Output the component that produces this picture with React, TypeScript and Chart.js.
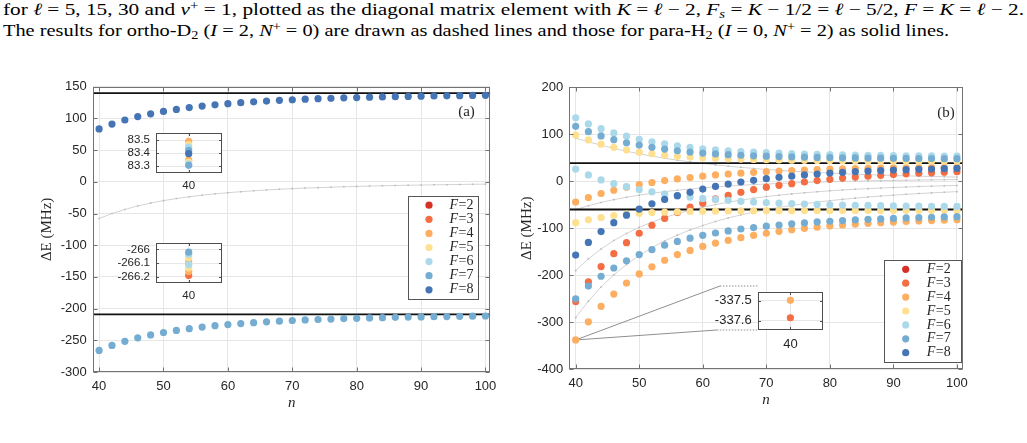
import React, { useEffect, useLayoutEffect, useRef } from "react";
import { Chart, registerables } from "chart.js";

Chart.register(...registerables);

// Rydberg principal quantum numbers sampled in both panels
const N = [40, 42, 44, 46, 48, 50, 52, 54, 56, 58, 60, 62, 64, 66, 68, 70, 72, 74, 76, 78, 80, 82, 84, 86, 88, 90, 92, 94, 96, 98, 100];

// total angular momentum labels and their marker colours
const F_LABELS = [2, 3, 4, 5, 6, 7, 8];
const F_COLORS = ["#d73027", "#f46d43", "#fdae61", "#fee090", "#abd9e9", "#74add1", "#4575b4"];

const X_TICKS = [40, 50, 60, 70, 80, 90, 100];
const A_Y_TICKS = [150, 100, 50, 0, -50, -100, -150, -200, -250, -300];
const B_Y_TICKS = [200, 100, 0, -100, -200, -300, -400];

// panel (a): shifts in MHz
const A_F8_UPPER = [83.4, 91.1, 97.5, 102.8, 107.2, 111.0, 114.2, 117.0, 119.4, 121.4, 123.2, 124.8, 126.2, 127.4, 128.5, 129.4, 130.3, 131.1, 131.7, 132.4, 132.9, 133.4, 133.9, 134.3, 134.7, 135.0, 135.3, 135.6, 135.9, 136.2, 136.4];
const A_F7_LOWER = [-266, -258.1, -251.6, -246.1, -241.6, -237.7, -234.4, -231.6, -229.1, -227.0, -225.2, -223.6, -222.2, -220.9, -219.8, -218.8, -217.9, -217.2, -216.5, -215.8, -215.3, -214.7, -214.3, -213.8, -213.4, -213.1, -212.8, -212.5, -212.2, -211.9, -211.7];
const A_REFERENCE = [-58, -50.1, -43.6, -38.1, -33.6, -29.7, -26.4, -23.6, -21.1, -19.0, -17.2, -15.6, -14.2, -12.9, -11.8, -10.8, -9.9, -9.2, -8.5, -7.8, -7.3, -6.7, -6.3, -5.8, -5.4, -5.1, -4.8, -4.5, -4.2, -3.9, -3.7];
const A_LIMITS = [140, -209];

// panel (a) insets: all F components at n = 40
const INSET_N = [40];
const A_UP_INSET_F = [4, 4, 5, 5, 6, 6, 7, 7, 8];
const A_UP_INSET_E = [83.49, 83.345, 83.465, 83.33, 83.445, 83.315, 83.42, 83.305, 83.395];
const A_UP_INSET_TICKS = [83.3, 83.4, 83.5];
const A_LO_INSET_F = [3, 4, 4, 5, 5, 6, 6, 7];
const A_LO_INSET_E = [-266.19, -266.09, -266.16, -266.06, -266.135, -266.035, -266.11, -266.02];
const A_LO_INSET_TICKS = [-266.2, -266.1, -266];

// panel (b): shifts in MHz, one array per branch
const B_F6_UPPER = [135, 122, 112, 103, 96, 89.5, 84, 79.5, 75.5, 72, 69, 67, 65, 63.4, 62, 60.8, 59.8, 58.9, 58.1, 57.4, 56.8, 56.3, 55.8, 55.4, 55, 54.7, 54.4, 54.2, 54, 53.8, 53.6];
const B_F7_UPPER = [117, 105.5, 96.5, 88.5, 82, 77, 72.5, 68.5, 65, 62.3, 60, 58.2, 56.7, 55.4, 54.3, 53.4, 52.6, 51.9, 51.3, 50.8, 50.4, 50, 49.7, 49.4, 49.1, 48.9, 48.7, 48.5, 48.3, 48.2, 48.1];
const B_F5_UPPER = [98.5, 88, 79, 72.3, 66.6, 62, 58.5, 55.5, 53.2, 51.5, 50, 48.9, 48, 47.2, 46.5, 45.9, 45.4, 45, 44.6, 44.3, 44, 43.8, 43.6, 43.4, 43.3, 43.1, 43, 42.9, 42.8, 42.7, 42.6];
const B_F6_MIDDLE = [26, 13.5, 3, -5, -11.5, -17.5, -22.5, -27, -30.5, -33.5, -36.5, -38.5, -40.5, -42.5, -44, -45.5, -46.6, -47.6, -48.5, -49.2, -49.9, -50.5, -51, -51.4, -51.8, -52.2, -52.5, -52.8, -53.1, -53.3, -53.5];
const B_F4_MIDDLE = [-44, -34.5, -26, -19, -12.5, -7, -2.5, 1.5, 5, 8, 11, 13.5, 15.5, 17.3, 19, 20.5, 21.8, 23, 24, 24.9, 25.7, 26.4, 27, 27.5, 28, 28.4, 28.8, 29.2, 29.5, 29.8, 30.1];
const B_F8_MIDDLE = [-157, -130, -107, -88, -72, -59, -48, -38.5, -30.5, -23.5, -16.5, -11, -6, -1.5, 2, 5.5, 8.5, 11, 13.5, 15.5, 17.5, 19, 20.5, 21.7, 22.8, 23.8, 24.7, 25.5, 26.2, 26.8, 27.4];
const B_F3_MIDDLE = [-256, -214, -181.5, -154, -130.5, -110.5, -93.5, -79, -66.5, -55, -46.5, -37.5, -30, -23.5, -17.5, -12.5, -8.5, -5, -1.5, 1.5, 4.2, 6.8, 9, 11, 12.8, 14.4, 15.9, 17.2, 18.4, 19.5, 20.5];
const B_F5_LOWER = [-88, -82, -77, -73, -70, -68, -66.5, -65.5, -64.8, -64.2, -63.8, -63.5, -63.2, -63, -62.8, -62.6, -62.5, -62.4, -62.3, -62.2, -62.1, -62, -62, -61.9, -61.9, -61.8, -61.8, -61.7, -61.7, -61.7, -61.6];
const B_F7_LOWER = [-250, -223, -202, -184.5, -169, -156, -145.5, -136, -128, -121, -115, -110, -105.5, -101.5, -98.5, -95.5, -93, -90.5, -88.5, -86.5, -85, -83.5, -82.2, -81, -80, -79, -78, -77.2, -76.5, -75.8, -75.2];
const B_F4_LOWER = [-337.6, -299, -266, -240, -216.5, -197, -182, -168, -156, -147, -138.5, -131.5, -125.5, -120, -115, -110.5, -106.5, -103, -100, -97.5, -95, -93, -91, -89.5, -88, -86.7, -85.5, -84.5, -83.5, -82.7, -82];
const B_REF_1 = [92, 84, 77, 70, 64, 58.5, 53.5, 49, 45, 41.3, 38, 35, 32.2, 29.7, 27.4, 25.3, 23.4, 21.7, 20.1, 18.7, 17.4, 16.2, 15.1, 14.1, 13.2, 12.4, 11.6, 10.9, 10.2, 9.6, 9];
const B_REF_2 = [-60, -52, -45, -39, -34, -29.5, -25.5, -22, -19, -16.5, -14, -12, -10, -8.5, -7, -5.7, -4.5, -3.5, -2.5, -1.7, -1, -0.3, 0.3, 0.9, 1.4, 1.9, 2.3, 2.7, 3.1, 3.4, 3.7];
const B_REF_3 = [-190, -165, -144, -126, -111, -98, -87, -77, -69, -61.5, -55, -49.5, -44.5, -40, -36, -32.5, -29.5, -26.8, -24.4, -22.2, -20.3, -18.5, -17, -15.6, -14.3, -13.2, -12.1, -11.2, -10.3, -9.5, -8.8];
const B_REF_4 = [-290, -255, -225, -199, -177, -158, -141, -127, -114.5, -103.5, -94, -85.5, -78, -71.5, -65.5, -60.5, -55.5, -51.5, -47.7, -44.3, -41.2, -38.4, -35.8, -33.5, -31.4, -29.5, -27.7, -26.1, -24.6, -23.2, -22];
const B_LIMITS = [38.5, -60];

// panel (b) inset: F = 3 and F = 4 at n = 40
const B_INSET_F = [3, 4];
const B_INSET_E = [-337.585, -337.497];
const B_INSET_TICKS = [-337.6, -337.5];

const SANS = '"Liberation Sans", Arial, Helvetica, sans-serif';
const SERIF = '"Liberation Serif", "Times New Roman", serif';
const INK = "#262626";
const DOT_R = 3.6;

const colorOf = (f: number) => F_COLORS[F_LABELS.indexOf(f)];
const pts = (ys: number[]) => N.map((n, i) => ({ x: n, y: ys[i] }));

function dots(f: number, data: { x: number; y: number }[]) {
  const c = colorOf(f);
  return {
    type: "scatter",
    label: "F=" + f,
    data,
    showLine: false,
    pointRadius: DOT_R,
    pointHoverRadius: DOT_R,
    pointBorderWidth: 0,
    backgroundColor: c,
    borderColor: c,
    order: 10 - f,
  };
}

function refLine(ys: number[]) {
  return {
    type: "line",
    data: pts(ys),
    borderColor: "#d3d3d3",
    borderWidth: 1,
    pointStyle: "rect",
    pointRadius: 1.1,
    pointBorderWidth: 0,
    pointBackgroundColor: "#bababa",
    order: 100,
  };
}

function level(y: number, x0: number, x1: number) {
  return {
    type: "line",
    data: [{ x: x0, y }, { x: x1, y }],
    borderColor: "#111",
    borderWidth: 1.8,
    pointRadius: 0,
    order: 60,
  };
}

function guide(a: [number, number], b: [number, number], dashed: boolean) {
  return {
    type: "line",
    data: [{ x: a[0], y: a[1] }, { x: b[0], y: b[1] }],
    borderColor: "#8f8f8f",
    borderWidth: 1,
    borderDash: dashed ? [1.5, 1.5] : [],
    pointRadius: 0,
    order: 70,
  };
}

// inset datasets grouped by F from parallel arrays
function insetSets(fs: number[], es: number[]) {
  return F_LABELS.filter((f) => fs.includes(f)).map((f) =>
    dots(
      f,
      fs.map((ff, i) => (ff === f ? { x: INSET_N[0], y: es[i] } : null)).filter(Boolean) as any
    )
  );
}

// box frame, inward tick marks, in-axes legend and panel tag
const framePlugin: any = {
  id: "frame",
  beforeDraw(chart: any, _a: any, o: any) {
    if (!o.fillArea) return;
    const { ctx, chartArea: a } = chart;
    ctx.save();
    ctx.fillStyle = "#fff";
    ctx.fillRect(a.left, a.top, a.right - a.left, a.bottom - a.top);
    ctx.restore();
  },
  afterDraw(chart: any, _a: any, o: any) {
    const { ctx, chartArea: a, scales } = chart;
    const L = Math.round(a.left) + 0.5, R = Math.round(a.right) - 0.5;
    const T = Math.round(a.top) + 0.5, B = Math.round(a.bottom) - 0.5;
    ctx.save();
    ctx.strokeStyle = o.color || "#737373";
    ctx.lineWidth = 1;
    ctx.strokeRect(L, T, R - L, B - T);
    const tl = o.tick || 4;
    ctx.beginPath();
    scales.x.ticks.forEach((t: any) => {
      const p = Math.round(scales.x.getPixelForValue(t.value)) + 0.5;
      ctx.moveTo(p, B); ctx.lineTo(p, B - tl);
      ctx.moveTo(p, T); ctx.lineTo(p, T + tl);
    });
    scales.y.ticks.forEach((t: any) => {
      const p = Math.round(scales.y.getPixelForValue(t.value)) + 0.5;
      ctx.moveTo(L, p); ctx.lineTo(L + tl, p);
      ctx.moveTo(R, p); ctx.lineTo(R - tl, p);
    });
    ctx.stroke();

    const lg = o.legend;
    if (lg) {
      ctx.fillStyle = "#fff";
      ctx.fillRect(lg.x, lg.y, lg.w, lg.h);
      ctx.strokeStyle = "#555";
      ctx.strokeRect(Math.round(lg.x) + 0.5, Math.round(lg.y) + 0.5, Math.round(lg.w), Math.round(lg.h));
      F_LABELS.forEach((f, i) => {
        const cy = lg.first + i * lg.step;
        ctx.fillStyle = colorOf(f);
        ctx.beginPath();
        ctx.arc(lg.markerX, cy, DOT_R, 0, Math.PI * 2);
        ctx.fill();
        ctx.fillStyle = INK;
        ctx.textBaseline = "middle";
        ctx.textAlign = "left";
        ctx.font = "italic 14px " + SERIF;
        ctx.fillText("F", lg.textX, cy);
        const w = ctx.measureText("F").width;
        ctx.font = "14px " + SERIF;
        ctx.fillText("=" + f, lg.textX + w + 0.5, cy);
      });
    }
    if (o.tag) {
      ctx.fillStyle = INK;
      ctx.font = "15px " + SERIF;
      ctx.textAlign = "center";
      ctx.textBaseline = "middle";
      ctx.fillText(o.tag.text, o.tag.x, o.tag.y);
    }
    ctx.restore();
  },
};

function makeConfig(p: any, datasets: any[]) {
  const tickFont = { family: SANS, size: p.fontSize || 13 };
  return {
    type: "scatter",
    data: { datasets },
    plugins: [framePlugin],
    options: {
      animation: false,
      responsive: false,
      maintainAspectRatio: false,
      events: [],
      layout: { padding: { top: p.padTop, right: p.padRight, left: 0, bottom: 0 } },
      plugins: {
        legend: { display: false },
        tooltip: { enabled: false },
        frame: { legend: p.legend, tag: p.tag, fillArea: p.fillArea, color: p.frameColor, tick: p.tick },
      },
      scales: {
        x: {
          type: "linear",
          min: p.xMin,
          max: p.xMax,
          afterBuildTicks: (s: any) => { s.ticks = p.xTicks.map((v: number) => ({ value: v })); },
          afterFit: (s: any) => { s.height = p.xAxisHeight; },
          grid: { color: "#e6e6e6", lineWidth: 1, drawTicks: false },
          border: { display: false },
          ticks: { padding: p.xTickPad, color: INK, font: tickFont, maxRotation: 0, autoSkip: false, callback: (v: any) => String(v) },
          title: p.xTitlePad != null
            ? { display: true, text: "n", color: INK, font: { family: SERIF, size: 15, style: "italic" }, padding: { top: 0, bottom: p.xTitlePad } }
            : { display: false },
        },
        y: {
          type: "linear",
          min: p.yMin,
          max: p.yMax,
          afterBuildTicks: (s: any) => { s.ticks = p.yTicks.map((v: number) => ({ value: v })); },
          afterFit: (s: any) => { s.width = p.yAxisWidth; },
          grid: { color: "#e6e6e6", lineWidth: 1, drawTicks: false },
          border: { display: false },
          ticks: { padding: p.yTickPad, color: INK, font: tickFont, autoSkip: false, callback: (v: any) => String(v) },
          title: p.yTitlePad != null
            ? { display: true, text: "ΔE (MHz)", color: INK, font: { family: SERIF, size: 15 }, padding: { top: p.yTitlePad, bottom: 0 } }
            : { display: false },
        },
      },
    },
  };
}

function ChartBox({ left, top, width, height, config }: any) {
  const ref = useRef<HTMLCanvasElement>(null);
  useEffect(() => {
    const chart = new Chart(ref.current as HTMLCanvasElement, config);
    return () => chart.destroy();
  }, []);
  return (
    <canvas
      ref={ref}
      width={width}
      height={height}
      style={{ position: "absolute", left, top, width, height }}
    />
  );
}

const A_X = [39.1, 100.75];
const B_X = [38.95, 100.95];

const panelA = makeConfig(
  {
    xMin: A_X[0], xMax: A_X[1], yMin: -300, yMax: 150, xTicks: X_TICKS, yTicks: A_Y_TICKS,
    padTop: 16.7, padRight: 19.7, yAxisWidth: 93.3, xAxisHeight: 58,
    xTickPad: 6.9, yTickPad: 6.6, yTitlePad: 38.5, xTitlePad: 18,
    legend: { x: 407.7, y: 126, w: 69.6, h: 103, first: 135.2, step: 14.1, markerX: 429, textX: 449.5 },
    tag: { text: "(a)", x: 466.5, y: 42.5 },
  },
  [
    refLine(A_REFERENCE),
    ...A_LIMITS.map((y) => level(y, A_X[0], A_X[1])),
    dots(7, pts(A_F7_LOWER)),
    dots(8, pts(A_F8_UPPER)),
  ]
);

const panelB = makeConfig(
  {
    xMin: B_X[0], xMax: B_X[1], yMin: -400, yMax: 200, xTicks: X_TICKS, yTicks: B_Y_TICKS,
    padTop: 17.3, padRight: 17, yAxisWidth: 59, xAxisHeight: 60.7,
    xTickPad: 5.9, yTickPad: 5.7, yTitlePad: 8, xTitlePad: 21,
    legend: { x: 374.3, y: 190, w: 77.2, h: 102.3, first: 199.3, step: 13.9, markerX: 395.7, textX: 416.7 },
    tag: { text: "(b)", x: 436, y: 43 },
  },
  [
    refLine(B_REF_1),
    refLine(B_REF_2),
    refLine(B_REF_3),
    refLine(B_REF_4),
    ...B_LIMITS.map((y) => level(y, B_X[0], B_X[1])),
    guide([40, B_F4_LOWER[0]], [62.7, -222.8], false),
    guide([40, B_F4_LOWER[0]], [62.2, -316.4], false),
    guide([62.7, -222.8], [68.6, -222.8], true),
    guide([62.2, -316.4], [68.6, -316.4], true),
    dots(3, pts(B_F3_MIDDLE)),
    dots(4, pts(B_F4_MIDDLE)),
    dots(4, pts(B_F4_LOWER)),
    dots(5, pts(B_F5_UPPER)),
    dots(5, pts(B_F5_LOWER)),
    dots(6, pts(B_F6_UPPER)),
    dots(6, pts(B_F6_MIDDLE)),
    dots(7, pts(B_F7_UPPER)),
    dots(7, pts(B_F7_LOWER)),
    dots(8, pts(B_F8_MIDDLE)),
  ]
);

const insetBase = {
  xMin: 39.5, xMax: 40.5, xTicks: INSET_N, fillArea: true, frameColor: "#4d4d4d", tick: 2.5,
};

const insetAUp = makeConfig(
  {
    ...insetBase, yMin: 83.244, yMax: 83.557, yTicks: A_UP_INSET_TICKS, fontSize: 11.5,
    padTop: 7.3, padRight: 8.3, yAxisWidth: 45.7, xAxisHeight: 21.7, xTickPad: 5.5, yTickPad: 5.7,
  },
  insetSets(A_UP_INSET_F, A_UP_INSET_E)
);

const insetALo = makeConfig(
  {
    ...insetBase, yMin: -266.247, yMax: -265.95, yTicks: A_LO_INSET_TICKS, fontSize: 11.5,
    padTop: 7.3, padRight: 8.3, yAxisWidth: 45.7, xAxisHeight: 21.7, xTickPad: 5.8, yTickPad: 5.7,
  },
  insetSets(A_LO_INSET_F, A_LO_INSET_E)
);

const insetB = makeConfig(
  {
    ...insetBase, yMin: -337.647, yMax: -337.453, yTicks: B_INSET_TICKS, fontSize: 13,
    padTop: 8, padRight: 6.7, yAxisWidth: 57.5, xAxisHeight: 23, xTickPad: 6.2, yTickPad: 5.8,
  },
  insetSets(B_INSET_F, B_INSET_E)
);

const supStyle: React.CSSProperties = { fontSize: "0.7em", verticalAlign: "0.45em", lineHeight: 0 };
const subStyle: React.CSSProperties = { fontSize: "0.7em", verticalAlign: "-0.25em", lineHeight: 0 };

function Caption() {
  const l1 = useRef<HTMLSpanElement>(null);
  const l2 = useRef<HTMLSpanElement>(null);
  useLayoutEffect(() => {
    const fit = (el: HTMLSpanElement | null, target: number) => {
      if (!el) return;
      el.style.transform = "none";
      const w = el.getBoundingClientRect().width;
      if (w > 0) el.style.transform = `scaleX(${target / w})`;
    };
    fit(l1.current, 1021);
    fit(l2.current, 946);
  }, []);
  const line: React.CSSProperties = {
    position: "absolute",
    left: 3,
    display: "inline-block",
    whiteSpace: "nowrap",
    transformOrigin: "0 0",
    fontFamily: SERIF,
    fontSize: 17,
    lineHeight: "21px",
    color: "#000",
  };
  return (
    <>
      <span ref={l1} style={{ ...line, top: -1 }}>
        for <i>ℓ</i> = 5, 15, 30 and <i>v</i><sup style={supStyle}>+</sup> = 1, plotted as the diagonal matrix element with{" "}
        <i>K</i> = <i>ℓ</i> − 2, <i>F</i><sub style={subStyle}><i>s</i></sub> = <i>K</i> − 1/2 = <i>ℓ</i> − 5/2, <i>F</i> = <i>K</i> = <i>ℓ</i> − 2.
      </span>
      <span ref={l2} style={{ ...line, top: 20 }}>
        The results for ortho-D<sub style={subStyle}>2</sub> (<i>I</i> = 2, <i>N</i><sup style={supStyle}>+</sup> = 0) are drawn as dashed
        lines and those for para-H<sub style={subStyle}>2</sub> (<i>I</i> = 0, <i>N</i><sup style={supStyle}>+</sup> = 2) as solid lines.
      </span>
    </>
  );
}

export default function App() {
  return (
    <div
      style={{
        position: "absolute",
        left: 0,
        top: 0,
        width: 1027,
        height: 443,
        background: "#fff",
        overflow: "hidden",
      }}
    >
      <Caption />
      <ChartBox left={0} top={70} width={510} height={360} config={panelA} />
      <ChartBox left={510} top={70} width={470} height={360} config={panelB} />
      <ChartBox left={110} top={120} width={120} height={75} config={insetAUp} />
      <ChartBox left={110} top={230} width={120} height={75} config={insetALo} />
      <ChartBox left={700} top={278} width={130} height={75} config={insetB} />
    </div>
  );
}
